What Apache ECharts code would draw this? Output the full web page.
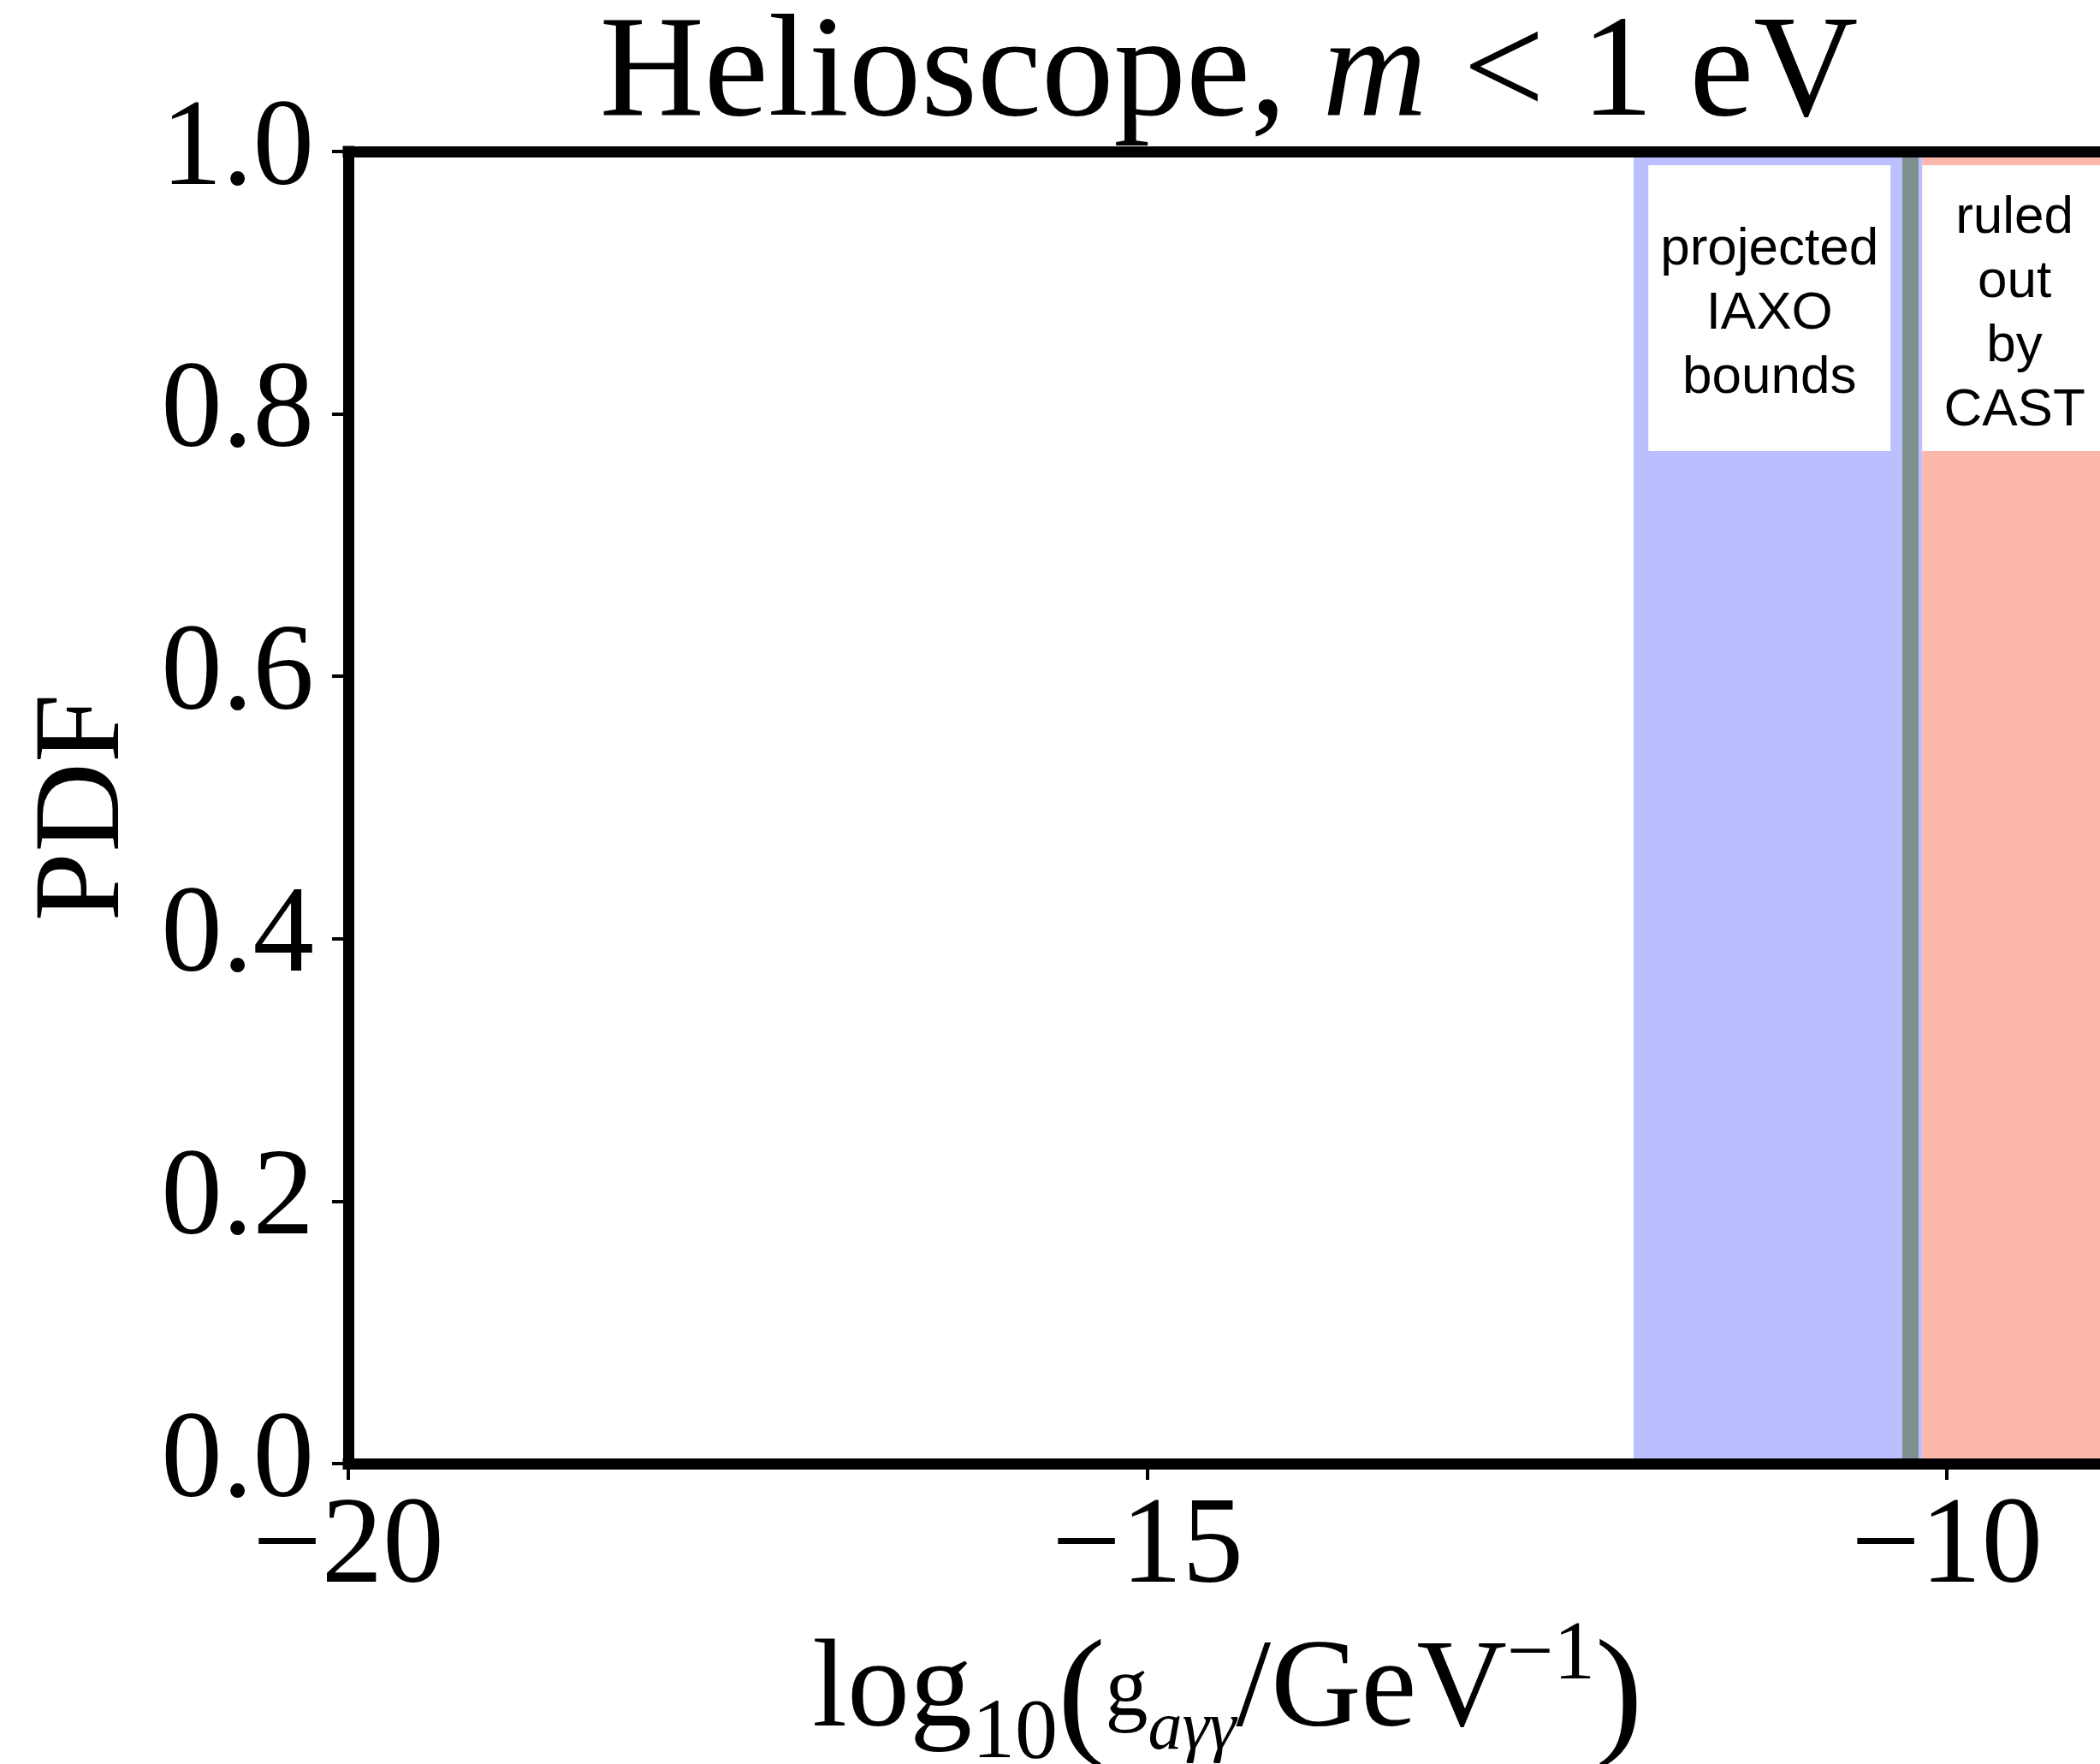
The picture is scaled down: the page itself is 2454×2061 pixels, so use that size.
<!DOCTYPE html>
<html>
<head>
<meta charset="utf-8">
<title>Helioscope, m < 1 eV</title>
<script src="https://cdn.jsdelivr.net/npm/echarts@6/dist/echarts.min.js"></script>
<style>
  html, body { margin: 0; padding: 0; background: #ffffff; }
  #chart { width: 2454px; height: 2061px; }
</style>
</head>
<body>
<div id="chart"></div>
<script>
// Axis ranges and tick values
const xRange = [-20, -9];
const xTickStep = 5;
const yRange = [0, 1];
const yTickStep = 0.2;

// Excluded / projected coupling regions in log10(g / GeV^-1)
const regionNames = ['projected\nIAXO\nbounds', 'ruled\nout\nby\nCAST'];
const regionStart = [-11.96, -10.155];
const regionEnd = [-10.155, -9];

// Current CAST limit line
const castLimit = -10.235;

// Caption boxes (data coordinates)
const captionStart = [-11.868, -10.155];
const captionEnd = [-10.353, -9];
const captionBottom = 0.7717;
const captionTop = 0.9896;

const SERIF = '"Liberation Serif", "Times New Roman", serif';
const SANS = '"Liberation Sans", Arial, Helvetica, sans-serif';
const MINUS = '\u2212';

const fmtX = v => (v < 0 ? MINUS + Math.abs(v) : String(v));
const fmtY = v => v.toFixed(1);

const chart = echarts.init(document.getElementById('chart'), null, { renderer: 'canvas' });

const spine = { show: true, lineStyle: { color: '#000', width: 13, cap: 'square' } };

const option = {
  backgroundColor: '#ffffff',
  animation: false,
  title: {
    text: 'Helioscope, {it|m} < 1 eV',
    left: 1436,
    top: 5,
    padding: 0,
    textAlign: 'center',
    textStyle: {
      fontFamily: SERIF,
      fontSize: 169,
      fontWeight: 'normal',
      color: '#000',
      lineHeight: 169,
      rich: {
        it: { fontFamily: SERIF, fontSize: 169, fontStyle: 'italic', color: '#000', lineHeight: 169 }
      }
    }
  },
  grid: { left: 407, width: 2055, top: 177, height: 1533, outerBoundsMode: 'none', containLabel: false },
  xAxis: [
    {
      type: 'value',
      position: 'bottom',
      min: xRange[0],
      max: xRange[1],
      interval: xTickStep,
      z: 10,
      axisLine: spine,
      axisTick: { show: true, inside: false, length: 19, lineStyle: { color: '#000', width: 4 } },
      splitLine: { show: false },
      axisLabel: {
        formatter: fmtX,
        showMaxLabel: false,
        margin: 29,
        fontFamily: SERIF,
        fontSize: 143,
        lineHeight: 143,
        color: '#000'
      },
      name: '{n|log}{s|10}{p|(}{g|g}{a|a\u03b3\u03b3}{n|/GeV}{sup|\u22121}{p|)}',
      nameLocation: 'middle',
      nameGap: 194,
      nameTextStyle: {
        fontFamily: SERIF,
        fontSize: 146,
        color: '#000',
        rich: {
          n: { fontFamily: SERIF, fontSize: 146, lineHeight: 146, color: '#000' },
          s: { fontFamily: SERIF, fontSize: 100, lineHeight: 48, height: 48, verticalAlign: 'bottom', color: '#000' },
          p: { fontFamily: SERIF, fontSize: 167, lineHeight: 126, height: 126, verticalAlign: 'bottom', color: '#000' },
          g: { fontFamily: SERIF, fontSize: 100, lineHeight: 146, height: 146, verticalAlign: 'middle', color: '#000' },
          a: { fontFamily: SERIF, fontSize: 80, fontStyle: 'italic', lineHeight: 56, height: 56, verticalAlign: 'bottom', color: '#000' },
          sup: { fontFamily: SERIF, fontSize: 97, lineHeight: 62, height: 62, verticalAlign: 'top', color: '#000' }
        }
      }
    },
    {
      type: 'value',
      position: 'top',
      min: xRange[0],
      max: xRange[1],
      z: 10,
      axisLine: spine,
      axisTick: { show: false },
      axisLabel: { show: false },
      splitLine: { show: false }
    }
  ],
  yAxis: {
    type: 'value',
    min: yRange[0],
    max: yRange[1],
    interval: yTickStep,
    z: 10,
    axisLine: spine,
    axisTick: { show: true, inside: false, length: 19, lineStyle: { color: '#000', width: 4 } },
    splitLine: { show: false },
    axisLabel: {
      formatter: fmtY,
      margin: 40,
      fontFamily: SERIF,
      fontSize: 143,
      color: '#000'
    },
    name: 'PDF',
    nameLocation: 'middle',
    nameGap: 235,
    nameRotate: 90,
    nameTextStyle: { fontFamily: SERIF, fontSize: 145, color: '#000' }
  },
  series: [
    {
      name: 'IAXO',
      type: 'line',
      data: [],
      z: 1,
      silent: true,
      markArea: {
        silent: true,
        itemStyle: { color: '#BBBFFF', borderWidth: 0 },
        data: [[{ xAxis: regionStart[0], yAxis: yRange[0] }, { xAxis: regionEnd[0], yAxis: yRange[1] }]]
      }
    },
    {
      name: 'CAST limit',
      type: 'line',
      data: [],
      z: 2,
      silent: true,
      markLine: {
        silent: true,
        symbol: ['none', 'none'],
        label: { show: false },
        lineStyle: { color: '#7F8F8E', width: 19, type: 'solid' },
        data: [{ xAxis: castLimit }]
      }
    },
    {
      name: 'CAST',
      type: 'line',
      data: [],
      z: 3,
      silent: true,
      markArea: {
        silent: true,
        itemStyle: { color: '#FCB8AD', borderWidth: 0 },
        data: [[{ xAxis: regionStart[1], yAxis: yRange[0] }, { xAxis: regionEnd[1], yAxis: yRange[1] }]]
      }
    },
    {
      name: 'captions',
      type: 'line',
      data: [],
      z: 4,
      silent: true,
      markArea: {
        silent: true,
        itemStyle: { color: '#ffffff', borderWidth: 0 },
        label: {
          show: true,
          position: 'inside',
          align: 'center',
          verticalAlign: 'middle',
          offset: [0, 7],
          fontFamily: SANS,
          fontSize: 62,
          lineHeight: 75,
          color: '#000'
        },
        data: regionNames.map((nm, i) => [
          { name: nm, xAxis: captionStart[i], yAxis: captionBottom },
          { xAxis: captionEnd[i], yAxis: captionTop }
        ])
      }
    }
  ]
};

chart.setOption(option);
</script>
</body>
</html>
